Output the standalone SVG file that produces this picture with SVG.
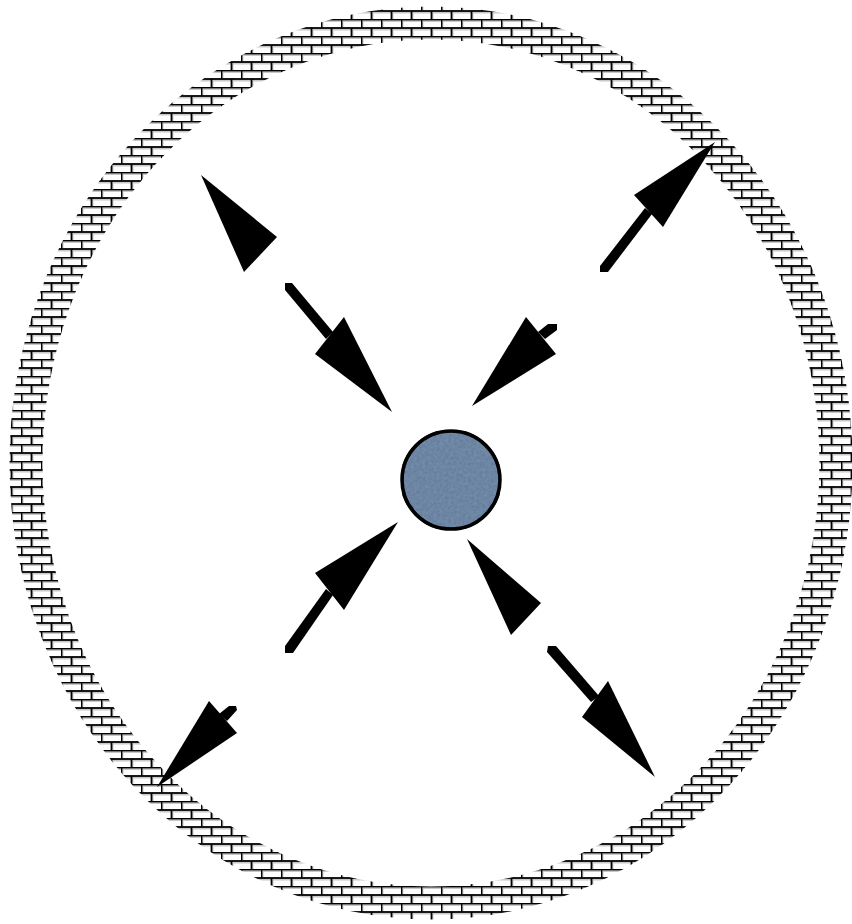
<svg xmlns="http://www.w3.org/2000/svg" width="852" height="924" viewBox="0 0 852 924">
  <style>
    .arrow { fill: #000; stroke: none; }
    .ring { fill: none; stroke: url(#brick); stroke-width: 33; }
    .core { fill: #5d789a; stroke: #000; stroke-width: 3.5; }
  </style>
  <defs>
    <pattern id="brick" patternUnits="userSpaceOnUse" width="20" height="17" x="1" y="2">
      <rect width="20" height="17" fill="#fff"/>
      <rect x="0" y="1" width="20" height="2" fill="#c8c8c8"/>
      <rect x="0" y="9.5" width="20" height="2" fill="#c8c8c8"/>
      <rect x="1" y="0" width="1.5" height="8.5" fill="#c8c8c8"/>
      <rect x="11" y="8.5" width="1.5" height="8.5" fill="#c8c8c8"/>
      <g stroke="#000" stroke-width="1.8">
        <line x1="0" y1="0.5" x2="20" y2="0.5"/>
        <line x1="0" y1="9" x2="20" y2="9"/>
        <line x1="0.5" y1="0" x2="0.5" y2="9"/>
        <line x1="10.5" y1="9" x2="10.5" y2="17"/>
      </g>
    </pattern>
    <filter id="mottle" x="0" y="0" width="1" height="1">
      <feTurbulence type="fractalNoise" baseFrequency="0.35" numOctaves="2" seed="3" result="n"/>
      <feColorMatrix in="n" type="matrix" values="0 0 0 0 0.36  0 0 0 0 0.47  0 0 0 0 0.6  0 0 0 0.35 0" result="c"/>
      <feComposite in="c" in2="SourceGraphic" operator="in" result="t"/>
      <feMerge><feMergeNode in="SourceGraphic"/><feMergeNode in="t"/></feMerge>
    </filter>
  </defs>
  <rect width="852" height="924" fill="#fff"/>

  <g id="wall">
    <ellipse class="ring" cx="431" cy="463" rx="405" ry="440"/>
  </g>

  <g id="core">
    <circle class="core" cx="451" cy="480" r="49" filter="url(#mottle)"/>
    <circle cx="451" cy="480" r="49" fill="none" stroke="#000" stroke-width="3.5"/>
  </g>

  <g id="connectors">
    <!-- upper-left: outward head -->
    <polygon class="arrow" points="201,175 277,237 244,272"/>
    <!-- upper-left: inward arrow -->
    <polygon class="arrow" points="285,283 292,283 333,332 326,339 285,290"/>
    <polygon class="arrow" points="315,354 392,412 344,317"/>
    <!-- upper-right: outward arrow -->
    <polygon class="arrow" points="600,266 645,208 652,214 608,272 600,272"/>
    <polygon class="arrow" points="634,195 715,142 663,227"/>
    <!-- upper-right: inward arrow -->
    <polygon class="arrow" points="538,332 548,324 557,324 557,330 545,339"/>
    <polygon class="arrow" points="526,317 472,406 556,354"/>
    <!-- lower-left: inward arrow -->
    <polygon class="arrow" points="285,646 326,589 333,595 293,653 285,653"/>
    <polygon class="arrow" points="315,573 398,522 344,610"/>
    <!-- lower-left: outward arrow -->
    <polygon class="arrow" points="219,714 229,706 236,706 237,710 227,721"/>
    <polygon class="arrow" points="209,701 157,787 237,733"/>
    <!-- lower-right: inward head -->
    <polygon class="arrow" points="467,539 541,603 511,635"/>
    <!-- lower-right: outward arrow -->
    <polygon class="arrow" points="548,646 556,646 599,696 591,702 547,652"/>
    <polygon class="arrow" points="582,717 655,777 608,681"/>
  </g>
</svg>
